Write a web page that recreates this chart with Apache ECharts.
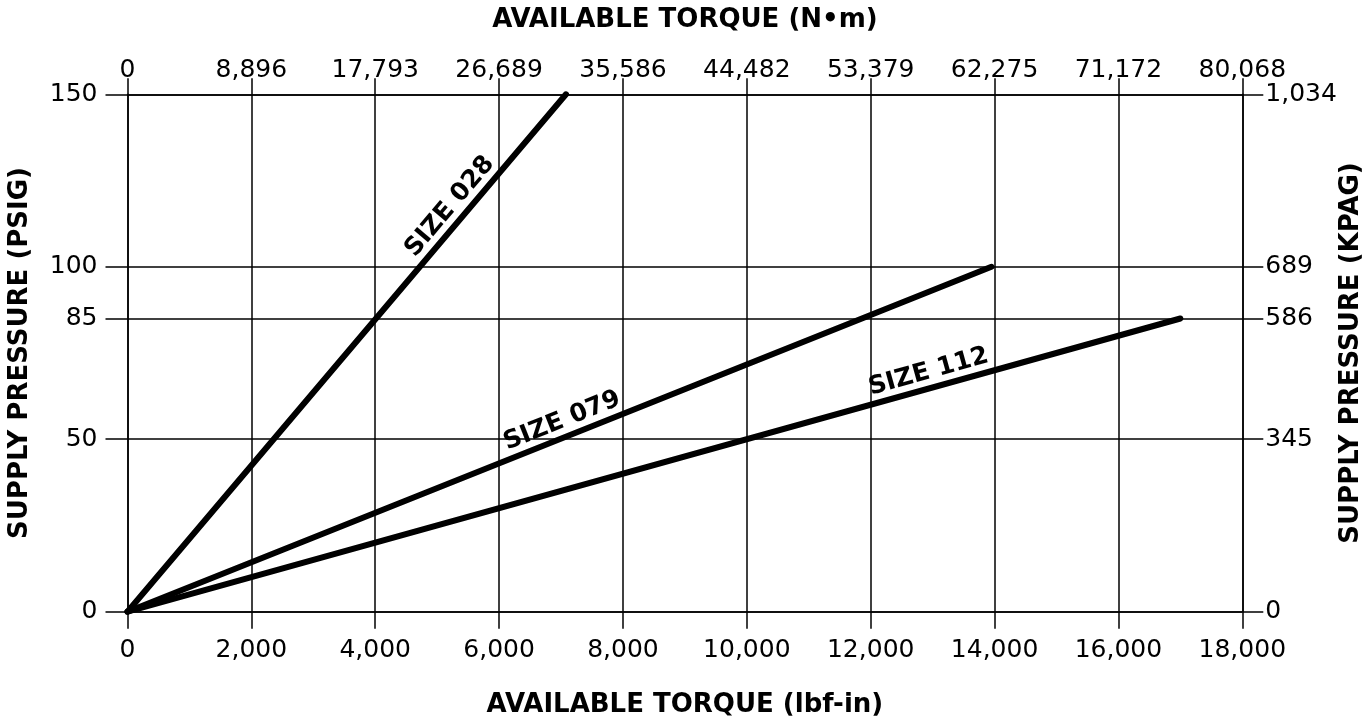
<!DOCTYPE html>
<html>
<head>
<meta charset="utf-8">
<script src="https://cdn.jsdelivr.net/npm/echarts@6/dist/echarts.min.js"></script>
<style>
html,body{margin:0;padding:0;background:#fff;}
#chart{width:1372px;height:721px;}
</style>
</head>
<body>
<div id="chart"></div>
<script>
// ---- data ----
const sizeNames = ['SIZE 028', 'SIZE 079', 'SIZE 112'];
const maxTorqueLbfIn = [7080, 13950, 17000];
const maxPressurePsig = [150, 100, 85];
const xTickLabelsNm = ['0', '8,896', '17,793', '26,689', '35,586', '44,482', '53,379', '62,275', '71,172', '80,068'];
const yTicksPsig = [0, 50, 85, 100, 150];
const yTickLabelsKpag = ['0', '345', '586', '689', '1,034'];

const FONT = 'DejaVu Sans, Verdana, sans-serif';
const chart = echarts.init(document.getElementById('chart'), null, {renderer: 'canvas'});

const gridStyle = {color: '#000', width: 1.5};
const labelBase = {color: '#000', fontSize: 25, fontFamily: FONT};
const nameBase = {color: '#000', fontSize: 26, fontWeight: 'bold', fontFamily: FONT};

function fmtThousands(v) { return String(Math.round(v)).replace(/\B(?=(\d{3})+(?!\d))/g, ','); }

const series = sizeNames.map((name, i) => ({
  name: name,
  type: 'line',
  xAxisIndex: 0,
  yAxisIndex: 0,
  symbol: 'none',
  silent: true,
  lineStyle: {color: '#000', width: 6, cap: 'round'},
  data: [[0, 0], [maxTorqueLbfIn[i], maxPressurePsig[i]]]
}));

chart.setOption({
  animation: false,
  backgroundColor: '#fff',
  grid: {left: 127.5, right: 129.7, top: 94.3, bottom: 109.3, containLabel: false, outerBoundsMode: 'none'},
  xAxis: [
    {
      type: 'value', position: 'bottom', min: 0, max: 18000, interval: 2000,
      name: 'AVAILABLE TORQUE (lbf-in)', nameLocation: 'middle', nameGap: 81,
      nameTextStyle: nameBase,
      axisLine: {show: true, onZero: false, lineStyle: gridStyle},
      axisTick: {show: true, inside: false, length: 17, lineStyle: gridStyle},
      axisLabel: Object.assign({margin: 26, formatter: v => fmtThousands(v)}, labelBase),
      splitLine: {show: true, lineStyle: gridStyle}
    },
    {
      type: 'value', position: 'top', min: 0, max: 18000, interval: 2000,
      name: 'AVAILABLE TORQUE (N\u2022m)', nameLocation: 'middle', nameGap: 61,
      nameTextStyle: nameBase,
      axisLine: {show: true, onZero: false, lineStyle: gridStyle},
      axisTick: {show: true, inside: false, length: 16, lineStyle: gridStyle},
      axisLabel: Object.assign({margin: 11, formatter: v => xTickLabelsNm[Math.round(v / 2000)]}, labelBase),
      splitLine: {show: false}
    }
  ],
  yAxis: [
    {
      type: 'value', position: 'left', min: 0, max: 150,
      name: 'SUPPLY PRESSURE (PSIG)', nameLocation: 'middle', nameGap: 94, nameRotate: 90,
      nameTextStyle: nameBase,
      axisLine: {show: true, onZero: false, lineStyle: gridStyle},
      axisTick: {show: true, inside: false, length: 22, lineStyle: gridStyle, customValues: yTicksPsig},
      axisLabel: Object.assign({margin: 30, customValues: yTicksPsig, formatter: v => String(v)}, labelBase),
      splitLine: {show: true, lineStyle: gridStyle}
    },
    {
      type: 'value', position: 'right', min: 0, max: 150,
      name: 'SUPPLY PRESSURE (KPAG)', nameLocation: 'middle', nameGap: 96, nameRotate: 90,
      nameMoveOverlap: false,
      nameTextStyle: nameBase,
      axisLine: {show: true, onZero: false, lineStyle: gridStyle},
      axisTick: {show: true, inside: false, length: 21, lineStyle: gridStyle, customValues: yTicksPsig},
      axisLabel: Object.assign({margin: 23, customValues: yTicksPsig,
        formatter: v => yTickLabelsKpag[yTicksPsig.indexOf(Math.round(v))]}, labelBase),
      splitLine: {show: false}
    }
  ],
  series: series
});

// ---- line labels, placed along each line via the chart's own scales ----
const labelAlong = [0.763, 0.51, 0.765];
const labelOffset = 16;
const graphics = sizeNames.map((name, i) => {
  const p0 = chart.convertToPixel({xAxisIndex: 0, yAxisIndex: 0}, [0, 0]);
  const p1 = chart.convertToPixel({xAxisIndex: 0, yAxisIndex: 0}, [maxTorqueLbfIn[i], maxPressurePsig[i]]);
  const dx = p1[0] - p0[0], dy = p1[1] - p0[1];
  const len = Math.sqrt(dx * dx + dy * dy);
  const nx = dy / len, ny = -dx / len;
  const t = labelAlong[i];
  return {
    type: 'text',
    x: p0[0] + dx * t + nx * labelOffset,
    y: p0[1] + dy * t + ny * labelOffset,
    rotation: Math.atan2(-dy, dx),
    silent: true,
    style: {
      text: name, fill: '#000', fontSize: 25, fontWeight: 'bold', fontFamily: FONT,
      align: 'center', verticalAlign: 'middle', textAlign: 'center', textVerticalAlign: 'middle'
    }
  };
});
chart.setOption({graphic: graphics});
</script>
</body>
</html>
